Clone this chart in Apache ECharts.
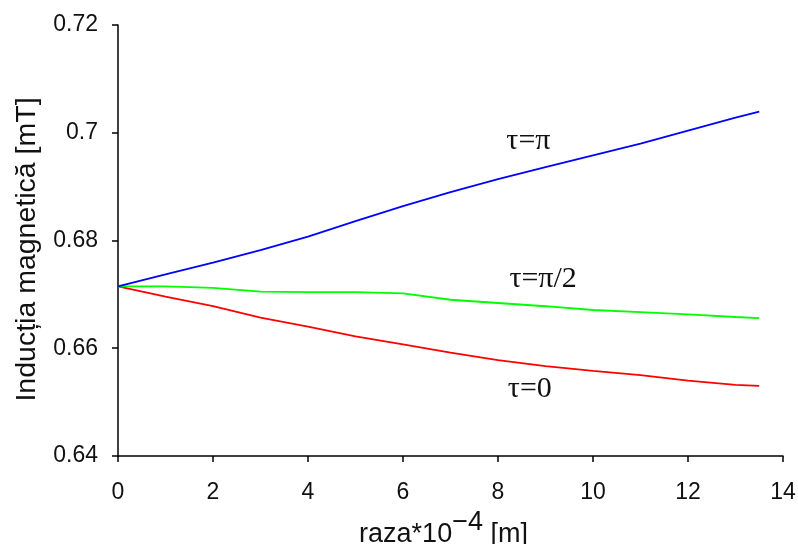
<!DOCTYPE html>
<html><head><meta charset="utf-8">
<script src="https://cdn.jsdelivr.net/npm/echarts@6/dist/echarts.min.js"></script>
<style>html,body{margin:0;padding:0;background:#fff}#c{width:798px;height:544px}</style>
</head><body><div id="c"></div>
<script>
const radii = [0,1,2,3,4,5,6,7,8,9,10,11,12,13,13.5];
const tauPi =   [0.6715,0.6737,0.6759,0.6782,0.6807,0.6836,0.6864,0.6890,0.6914,0.6936,0.6958,0.6980,0.7004,0.7028,0.7039];
const tauHalf = [0.6715,0.6715,0.6712,0.6705,0.6704,0.6704,0.6702,0.6690,0.6684,0.6678,0.6671,0.6667,0.6663,0.6658,0.6656];
const tauZero = [0.6715,0.6696,0.6678,0.6657,0.6640,0.6622,0.6607,0.6592,0.6578,0.6567,0.6558,0.6550,0.6540,0.6532,0.6530];
const seriesNames = ['τ=π','τ=π/2','τ=0'];
const labelPos = [[8.64,0.6985],[8.95,0.6729],[8.67,0.6524]];
const colors = ['#0000ff','#00ff00','#ff0000'];
const allData = [tauPi, tauHalf, tauZero];

const sans = 'Liberation Sans, Arial';
const chart = echarts.init(document.getElementById('c'));
const axisLineCommon = {show:true,lineStyle:{color:'#000',width:1.5}};
const axisTickCommon = {show:true,inside:false,length:6,lineStyle:{color:'#000',width:1.5}};
chart.setOption({
  animation:false,
  grid:{left:118,top:25,right:15,bottom:88,containLabel:false,outerBoundsMode:'none'},
  xAxis:{type:'value',min:0,max:14,interval:2,
    axisLine:axisLineCommon,axisTick:axisTickCommon,splitLine:{show:false},
    axisLabel:{color:'#111',fontFamily:sans,fontSize:23,margin:25},
    name:'{a|raza*10}{s|−4}{a| [m]}',nameLocation:'middle',nameGap:34,
    nameTextStyle:{padding:[0,14,0,0],rich:{
      a:{fontFamily:sans,fontSize:27,color:'#111',lineHeight:39,verticalAlign:'bottom'},
      s:{fontFamily:sans,fontSize:27,color:'#111',verticalAlign:'top'}}}
  },
  yAxis:{type:'value',min:0.64,max:0.72,interval:0.02,
    axisLine:axisLineCommon,axisTick:axisTickCommon,splitLine:{show:false},
    axisLabel:{color:'#111',fontFamily:sans,fontSize:23,margin:20,formatter:v=>String(+v.toFixed(2))},
    name:'Inducția magnetică [mT]',nameLocation:'middle',nameGap:76,
    nameTextStyle:{fontFamily:sans,fontSize:28.5,color:'#111',padding:[0,18,0,0]}
  },
  series: allData.map((d,i)=>({
    type:'line',name:seriesNames[i],
    data:radii.map((r,j)=>[r,d[j]]),
    showSymbol:false,symbol:'none',
    lineStyle:{color:colors[i],width:1.8},
    z: 3-i,
    markPoint:{symbol:'circle',symbolSize:0,
      data:[{coord:labelPos[i],
        label:{show:true,position:'inside',formatter:seriesNames[i],
          fontFamily:'Liberation Serif, Times New Roman',fontSize:30,color:'#111'}}]}
  }))
});
</script></body></html>
